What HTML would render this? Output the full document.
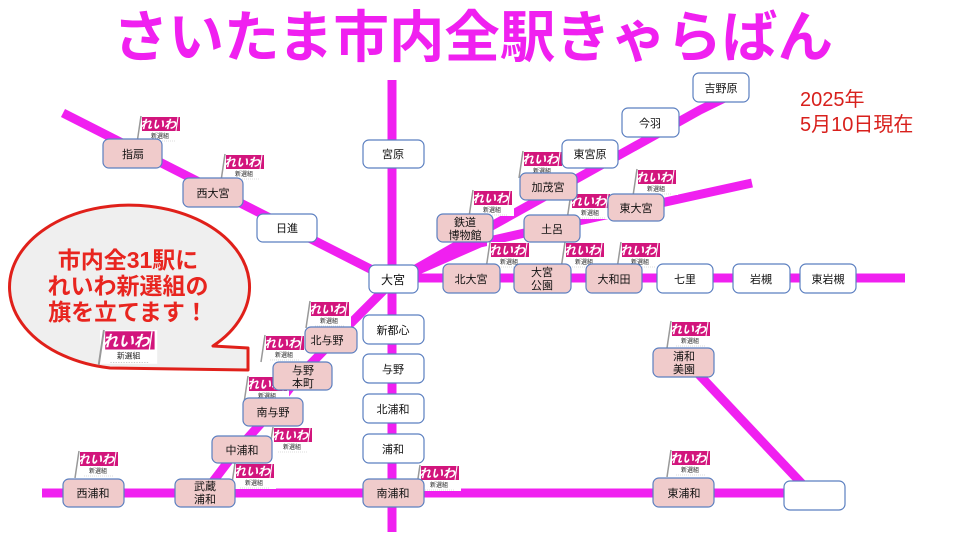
<!DOCTYPE html>
<html><head><meta charset="utf-8"><style>
html,body{margin:0;padding:0;background:#fff;}
svg{display:block;font-family:"Liberation Sans","Noto Sans CJK JP",sans-serif;}
</style></head><body>
<svg width="960" height="540" viewBox="0 0 960 540" xmlns="http://www.w3.org/2000/svg">
<defs>
<g id="flag">
  <rect x="0" y="0" width="44" height="26" fill="#fff"/>
  <line x1="3" y1="0" x2="-1" y2="27" stroke="#999" stroke-width="1.5"/>
  <rect x="4" y="1" width="38" height="14" fill="#d2157c"/>
  <line x1="40" y1="1" x2="38" y2="15" stroke="#fff" stroke-width="1"/>
  <text x="20" y="12.5" font-size="12" font-weight="bold" font-style="italic" fill="#fff" text-anchor="middle">れいわ</text>
  <text x="22" y="22" font-size="6" fill="#222" text-anchor="middle">新選組</text>
  <line x1="8" y1="25" x2="38" y2="25" stroke="#bbb" stroke-width="0.6" stroke-dasharray="1,1"/>
</g>
</defs>

<text x="113" y="57" font-size="56" font-weight="bold" fill="#f020f0" textLength="720" lengthAdjust="spacingAndGlyphs">さいたま市内全駅きゃらばん</text>

<g stroke="#f020f0" stroke-width="9" fill="none" stroke-linecap="butt">
  <line x1="392" y1="80" x2="392" y2="532"/>
  <polyline points="63,113 392,280"/>
  <line x1="392" y1="278" x2="905" y2="278"/>
  <polyline points="400,278 470,238 560,188 700,110 745,88"/>
  <polyline points="400,278 480,243 560,225 752,183"/>
  <polyline points="392,282 334,340 300,375 273,410 237,450 205,492"/>
  <line x1="42" y1="493" x2="785" y2="493"/>
  <line x1="690" y1="365" x2="805" y2="487"/>
</g>

<!-- speech bubble -->
<path d="M213,346 L248,348 L248,370 L110,368 A120,82 0 1 1 213,346 Z" fill="#efefef" stroke="#e0201a" stroke-width="3" stroke-linejoin="round"/>
<g font-size="23" font-weight="bold" fill="#e8251f" text-anchor="middle">
<text x="128" y="268">市内全31駅に</text>
<text x="128" y="294">れいわ新選組の</text>
<text x="128" y="320">旗を立てます！</text>
</g>
<g transform="translate(100,330) scale(1.3)"><use href="#flag"/></g>

<text x="800" y="106" font-size="20" fill="#d8201c">2025年</text>
<text x="800" y="131" font-size="20" fill="#d8201c">5月10日現在</text>

<use href="#flag" x="138" y="116"/>
<use href="#flag" x="222" y="154"/>
<use href="#flag" x="470" y="190"/>
<use href="#flag" x="520" y="151"/>
<use href="#flag" x="568" y="193"/>
<use href="#flag" x="634" y="169"/>
<use href="#flag" x="487" y="242"/>
<use href="#flag" x="562" y="242"/>
<use href="#flag" x="618" y="242"/>
<use href="#flag" x="307" y="301"/>
<use href="#flag" x="262" y="335"/>
<use href="#flag" x="245" y="376"/>
<use href="#flag" x="270" y="427"/>
<use href="#flag" x="232" y="463"/>
<use href="#flag" x="417" y="465"/>
<use href="#flag" x="76" y="451"/>
<use href="#flag" x="668" y="321"/>
<use href="#flag" x="668" y="450"/>

<g stroke="#5b7fc0" stroke-width="1.2">
<g fill="#fff">
  <rect x="693" y="73" width="56" height="29" rx="6"/>
  <rect x="622" y="108" width="57" height="29" rx="6"/>
  <rect x="562" y="140" width="56" height="28" rx="6"/>
  <rect x="657" y="264" width="56" height="29" rx="6"/>
  <rect x="733" y="264" width="57" height="29" rx="6"/>
  <rect x="800" y="264" width="56" height="29" rx="6"/>
  <rect x="363" y="140" width="61" height="28" rx="6"/>
  <rect x="369" y="265" width="49" height="28" rx="6"/>
  <rect x="363" y="315" width="61" height="29" rx="6"/>
  <rect x="363" y="354" width="61" height="29" rx="6"/>
  <rect x="363" y="394" width="61" height="29" rx="6"/>
  <rect x="363" y="434" width="61" height="29" rx="6"/>
  <rect x="257" y="214" width="60" height="28" rx="6"/>
  <rect x="784" y="481" width="61" height="29" rx="6"/>
</g>
<g fill="#f0cbcb">
  <rect x="520" y="173" width="57" height="27" rx="6"/>
  <rect x="437" y="214" width="56" height="28" rx="6"/>
  <rect x="524" y="215" width="56" height="27" rx="6"/>
  <rect x="608" y="194" width="56" height="27" rx="6"/>
  <rect x="443" y="264" width="57" height="29" rx="6"/>
  <rect x="514" y="264" width="57" height="29" rx="6"/>
  <rect x="586" y="264" width="56" height="29" rx="6"/>
  <rect x="363" y="479" width="61" height="28" rx="6"/>
  <rect x="63" y="479" width="61" height="28" rx="6"/>
  <rect x="175" y="479" width="60" height="28" rx="6"/>
  <rect x="212" y="436" width="60" height="27" rx="6"/>
  <rect x="243" y="398" width="60" height="28" rx="6"/>
  <rect x="273" y="362" width="59" height="28" rx="6"/>
  <rect x="305" y="327" width="52" height="26" rx="6"/>
  <rect x="103" y="139" width="59" height="29" rx="6"/>
  <rect x="183" y="178" width="60" height="29" rx="6"/>
  <rect x="653" y="348" width="61" height="29" rx="6"/>
  <rect x="653" y="478" width="61" height="29" rx="6"/>
</g>
</g>

<g font-size="11" fill="#111" text-anchor="middle">
  <text x="721" y="92">吉野原</text>
  <text x="650" y="127">今羽</text>
  <text x="590" y="158">東宮原</text>
  <text x="548" y="191">加茂宮</text>
  <text x="465" y="226">鉄道</text>
  <text x="465" y="239">博物館</text>
  <text x="552" y="233">土呂</text>
  <text x="636" y="212">東大宮</text>
  <text x="471" y="283">北大宮</text>
  <text x="542" y="276">大宮</text>
  <text x="542" y="289">公園</text>
  <text x="614" y="283">大和田</text>
  <text x="685" y="283">七里</text>
  <text x="761" y="283">岩槻</text>
  <text x="828" y="283">東岩槻</text>
  <text x="393" y="158">宮原</text>
  <text x="393" y="284" font-size="12">大宮</text>
  <text x="393" y="334">新都心</text>
  <text x="393" y="373">与野</text>
  <text x="393" y="413">北浦和</text>
  <text x="393" y="453">浦和</text>
  <text x="393" y="497">南浦和</text>
  <text x="93" y="497">西浦和</text>
  <text x="205" y="490">武蔵</text>
  <text x="205" y="503">浦和</text>
  <text x="242" y="454">中浦和</text>
  <text x="273" y="416">南与野</text>
  <text x="303" y="374">与野</text>
  <text x="303" y="387">本町</text>
  <text x="327" y="344">北与野</text>
  <text x="133" y="158">指扇</text>
  <text x="213" y="197">西大宮</text>
  <text x="287" y="232">日進</text>
  <text x="684" y="360">浦和</text>
  <text x="684" y="373">美園</text>
  <text x="684" y="497">東浦和</text>
</g>
</svg>
</body></html>
